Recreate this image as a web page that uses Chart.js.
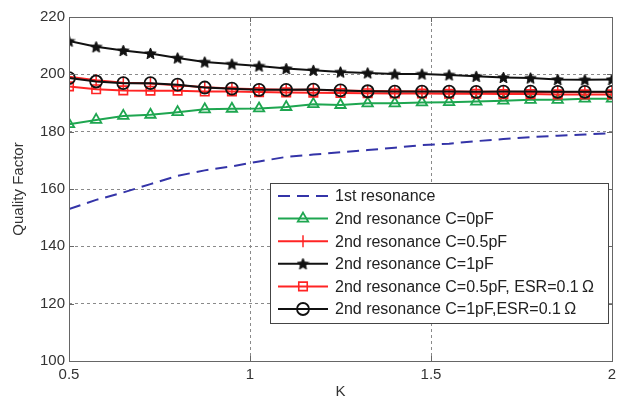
<!DOCTYPE html>
<html>
<head>
<meta charset="utf-8">
<script src="https://cdn.jsdelivr.net/npm/chart.js@4/dist/chart.umd.min.js"></script>
<style>
  html, body { margin: 0; padding: 0; background: #fff; }
  #wrap { width: 624px; height: 406px; }
</style>
</head>
<body>
<div id="wrap"><canvas id="qChart" width="624" height="406"></canvas></div>
<script>
// K sweep, 0.5 .. 2 in steps of 0.075
const kValues = [0.5, 0.575, 0.65, 0.725, 0.8, 0.875, 0.95, 1.025, 1.1, 1.175, 1.25,
                 1.325, 1.4, 1.475, 1.55, 1.625, 1.7, 1.775, 1.85, 1.925, 2.0];

const firstRes = [153.0, 156.2, 158.8, 161.7, 164.6, 166.5, 167.9, 169.6, 171.2, 172.0, 172.8,
                  173.6, 174.4, 175.3, 175.8, 176.7, 177.4, 178.1, 178.6, 179.0, 179.5];
const secondC0 = [182.6, 184.1, 185.5, 185.9, 186.8, 187.8, 188.0, 188.1, 188.6, 189.6, 189.3,
                  189.9, 189.9, 190.2, 190.3, 190.5, 190.8, 191.1, 191.1, 191.5, 191.5];
const secondC05 = [199.2, 197.9, 197.1, 196.8, 196.2, 195.5, 195.1, 194.8, 194.6, 194.6, 194.4,
                   194.2, 194.1, 194.0, 194.0, 193.9, 193.9, 193.8, 193.8, 193.8, 193.8];
const secondC1 = [211.6, 209.6, 208.3, 207.3, 205.7, 204.3, 203.6, 202.9, 202.0, 201.4, 200.8,
                  200.5, 200.1, 200.1, 199.8, 199.3, 198.9, 198.7, 198.2, 198.1, 198.2];
const secondC05Esr = [195.8, 194.8, 194.4, 194.3, 194.3, 194.0, 194.0, 193.8, 193.7, 193.6, 193.5,
                      193.4, 193.3, 193.3, 193.2, 193.2, 193.1, 193.1, 193.0, 193.0, 193.0];
const secondC1Esr = [198.7, 197.5, 196.9, 196.9, 196.4, 195.4, 195.0, 194.6, 194.6, 194.7, 194.4,
                     194.1, 194.0, 194.0, 194.0, 193.9, 194.0, 194.0, 193.9, 193.9, 193.9];

const seriesLabels = [
    '1st resonance',
    '2nd resonance C=0pF',
    '2nd resonance C=0.5pF',
    '2nd resonance C=1pF',
    '2nd resonance C=0.5pF, ESR=0.1\u2009\u03A9',
    '2nd resonance C=1pF,ESR=0.1\u2009\u03A9'
];

const yTicks = [100, 120, 140, 160, 180, 200, 220];
const xTicks = [0.5, 1, 1.5, 2];

const FONT = '"Liberation Sans", Arial, Helvetica, sans-serif';

// filled five point star used as a marker
function makeStar(size) {
    const c = document.createElement('canvas');
    c.width = size; c.height = size;
    const g = c.getContext('2d');
    const cx = size / 2, cy = size / 2 + 0.5, ro = size / 2 - 0.5, ri = ro * 0.45;
    g.beginPath();
    for (let i = 0; i < 10; i++) {
        const r = i % 2 === 0 ? ro : ri;
        const a = -Math.PI / 2 + i * Math.PI / 5;
        g.lineTo(cx + r * Math.cos(a), cy + r * Math.sin(a));
    }
    g.closePath();
    g.fillStyle = '#111';
    g.fill();
    g.strokeStyle = '#111';
    g.lineWidth = 1;
    g.stroke();
    return c;
}
const starImg = makeStar(13);

const pts = arr => arr.map((v, i) => ({ x: kValues[i], y: v }));

const datasets = [
    { label: seriesLabels[0], data: pts(firstRes), borderColor: '#3434a8', borderDash: [12, 7],
      borderWidth: 2, pointRadius: 0, pointStyle: false },
    { label: seriesLabels[1], data: pts(secondC0), borderColor: '#1ea650', borderWidth: 2,
      pointStyle: 'triangle', pointRadius: 6, pointBorderWidth: 1.8, pointBackgroundColor: 'rgba(0,0,0,0)' },
    { label: seriesLabels[2], data: pts(secondC05), borderColor: '#ff2424', borderWidth: 2,
      pointStyle: 'line', pointRotation: 90, pointRadius: 6, pointBorderWidth: 1.5 },
    { label: seriesLabels[3], data: pts(secondC1), borderColor: '#111', borderWidth: 2,
      pointStyle: starImg, pointRadius: 6 },
    { label: seriesLabels[4], data: pts(secondC05Esr), borderColor: '#ff2424', borderWidth: 2,
      pointStyle: 'rect', pointRadius: 6, pointBorderWidth: 1.6, pointBackgroundColor: 'rgba(0,0,0,0)' },
    { label: seriesLabels[5], data: pts(secondC1Esr), borderColor: '#111', borderWidth: 2,
      pointStyle: 'circle', pointRadius: 6, pointBorderWidth: 1.8, pointBackgroundColor: 'rgba(0,0,0,0)' }
];
// later series painted on top
datasets.forEach((d, i) => {
    d.order = datasets.length - i;
    d.fill = false;
    d.tension = 0;
    d.pointBorderColor = d.borderColor;
    d.pointHoverRadius = d.pointRadius;
});

// axes box, inward ticks and the legend inside the plot
const framePlugin = {
    id: 'framePlugin',
    afterDatasetsDraw(chart) {
        const { ctx, chartArea: a, scales } = chart;
        ctx.save();
        ctx.strokeStyle = '#666';
        ctx.lineWidth = 1;
        ctx.setLineDash([]);
        ctx.strokeRect(Math.round(a.left) + 0.5, Math.round(a.top) + 0.5,
                       Math.round(a.right - a.left), Math.round(a.bottom - a.top));
        ctx.beginPath();
        yTicks.forEach(v => {
            const y = Math.round(scales.y.getPixelForValue(v)) + 0.5;
            ctx.moveTo(a.left, y); ctx.lineTo(a.left + 5, y);
            ctx.moveTo(a.right, y); ctx.lineTo(a.right - 5, y);
        });
        xTicks.forEach(v => {
            const x = Math.round(scales.x.getPixelForValue(v)) + 0.5;
            ctx.moveTo(x, a.bottom); ctx.lineTo(x, a.bottom - 5);
            ctx.moveTo(x, a.top); ctx.lineTo(x, a.top + 5);
        });
        ctx.stroke();

        // legend
        const bx = 270, by = 183, bw = 338, bh = 140, rowH = 22.6;
        ctx.fillStyle = '#fff';
        ctx.fillRect(bx, by, bw, bh);
        ctx.strokeStyle = '#444';
        ctx.strokeRect(bx + 0.5, by + 0.5, bw, bh);
        ctx.font = '16px ' + FONT;
        ctx.textBaseline = 'middle';
        chart.data.datasets.forEach((d, i) => {
            const y = by + 13 + i * rowH;
            ctx.strokeStyle = d.borderColor;
            ctx.lineWidth = d.borderWidth;
            ctx.setLineDash(d.borderDash || []);
            ctx.beginPath();
            ctx.moveTo(bx + 8, y); ctx.lineTo(bx + 58, y);
            ctx.stroke();
            ctx.setLineDash([]);
            if (d.pointStyle) {
                ctx.fillStyle = d.pointBackgroundColor || d.borderColor;
                ctx.strokeStyle = d.borderColor;
                ctx.lineWidth = d.pointBorderWidth || 1;
                Chart.helpers.drawPoint(ctx, {
                    pointStyle: d.pointStyle, radius: d.pointRadius,
                    rotation: d.pointRotation || 0, borderWidth: d.pointBorderWidth || 1
                }, bx + 33, y);
            }
            ctx.fillStyle = '#222';
            ctx.fillText(d.label, bx + 65, y + 1);
        });
        ctx.restore();
    }
};

new Chart(document.getElementById('qChart'), {
    type: 'line',
    data: { datasets },
    plugins: [framePlugin],
    options: {
        responsive: false,
        animation: false,
        events: [],
        layout: { padding: { left: 0, right: 12, top: 17, bottom: 0 } },
        plugins: { legend: { display: false }, tooltip: { enabled: false } },
        scales: {
            x: {
                type: 'linear', min: 0.5, max: 2,
                afterBuildTicks: s => { s.ticks = xTicks.map(v => ({ value: v })); },
                afterFit: s => { s.height = 45; },
                ticks: { color: '#333', font: { family: FONT, size: 15 }, padding: 5,
                         maxRotation: 0, callback: v => String(v) },
                grid: { color: '#8a8a8a', lineWidth: 1, drawTicks: false },
                border: { display: false, dash: [3, 3] },
                title: { display: true, text: 'K', color: '#333', font: { family: FONT, size: 15 },
                         padding: { top: 0, bottom: 5 } }
            },
            y: {
                type: 'linear', min: 100, max: 220,
                afterBuildTicks: s => { s.ticks = yTicks.map(v => ({ value: v })); },
                afterFit: s => { s.width = 69; },
                ticks: { color: '#333', font: { family: FONT, size: 15 }, padding: 4 },
                grid: { color: '#8a8a8a', lineWidth: 1, drawTicks: false },
                border: { display: false, dash: [3, 3] },
                title: { display: true, text: 'Quality Factor', color: '#333',
                         font: { family: FONT, size: 15 }, padding: { top: 10, bottom: 0 } }
            }
        }
    }
});
</script>
</body>
</html>
